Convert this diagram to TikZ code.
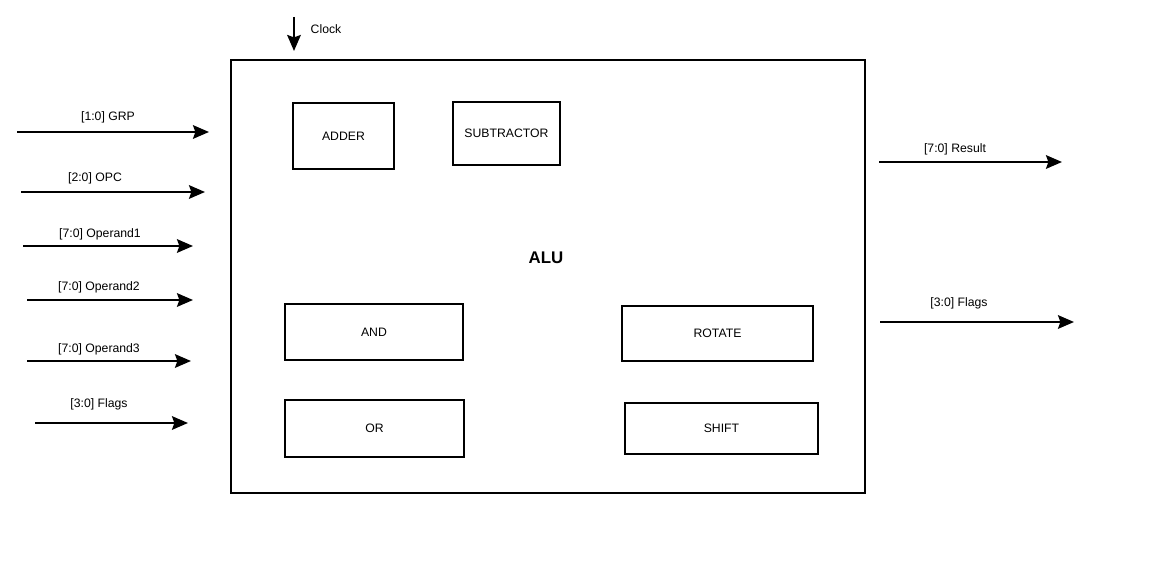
\documentclass[tikz,border=0pt]{standalone}
\usepackage{fontspec}
\setmainfont{Liberation Sans}
\usetikzlibrary{positioning, arrows.meta}

\begin{document}
\begin{tikzpicture}[
  x=0.025cm, y=-0.025cm,
  font=\fontsize{8.7}{10}\selectfont,
  unitbox/.style={draw, line width=1pt, inner sep=0pt, align=center},
  sigarrow/.style={-{Stealth[length=4mm, width=3.4mm, inset=0.6mm]}, line width=1.5pt},
  siglabel/.style={inner sep=1pt},
]
\useasboundingbox (0,0) rectangle (1160,571);

% ALU block and its units
\node[unitbox, minimum width=15.85cm, minimum height=10.825cm] (alu) at (548,276.5) {};
\node[font=\fontsize{12}{14}\selectfont\bfseries] (alulabel) at (546,258) {ALU};
\node[unitbox, minimum width=2.525cm, minimum height=1.65cm] (adder) at (343.5,136) {ADDER};
\node[unitbox, minimum width=2.675cm, minimum height=1.575cm] (sub) at (506.5,133.5) {SUBTRACTOR};
\node[unitbox, minimum width=4.45cm, minimum height=1.4cm] (and) at (374,332) {AND};
\node[unitbox, minimum width=4.775cm, minimum height=1.375cm] (rotate) at (717.5,333.5) {ROTATE};
\node[unitbox, minimum width=4.475cm, minimum height=1.425cm] (or) at (374.5,428.5) {OR};
\node[unitbox, minimum width=4.825cm, minimum height=1.275cm] (shift) at (721.5,428.5) {SHIFT};

% clock
\coordinate (clkin) at (294,17);
\coordinate (clkout) at (294,51);
\draw[sigarrow] (clkin) -- (clkout);
\node[siglabel] (clklabel) at (326,29) {Clock};

% inputs
\coordinate (grpa) at (17,132);   \coordinate (grpb) at (209,132);
\coordinate (opca) at (21,192);   \coordinate (opcb) at (205,192);
\coordinate (op1a) at (23,246);   \coordinate (op1b) at (193,246);
\coordinate (op2a) at (27,300);   \coordinate (op2b) at (193,300);
\coordinate (op3a) at (27,361);   \coordinate (op3b) at (191,361);
\coordinate (flia) at (35,423);   \coordinate (flib) at (188,423);
\draw[sigarrow] (grpa) -- (grpb);
\draw[sigarrow] (opca) -- (opcb);
\draw[sigarrow] (op1a) -- (op1b);
\draw[sigarrow] (op2a) -- (op2b);
\draw[sigarrow] (op3a) -- (op3b);
\draw[sigarrow] (flia) -- (flib);
\node[siglabel] (grplabel) at (108,117) {[1:0] GRP};
\node[siglabel] (opclabel) at (95,178) {[2:0] OPC};
\node[siglabel] (op1label) at (100,234) {[7:0] Operand1};
\node[siglabel] (op2label) at (99,287) {[7:0] Operand2};
\node[siglabel] (op3label) at (99,349) {[7:0] Operand3};
\node[siglabel] (flilabel) at (99,404) {[3:0] Flags};

% outputs
\coordinate (resa) at (879,162);  \coordinate (resb) at (1062,162);
\coordinate (floa) at (880,322);  \coordinate (flob) at (1074,322);
\draw[sigarrow] (resa) -- (resb);
\draw[sigarrow] (floa) -- (flob);
\node[siglabel] (reslabel) at (955,149) {[7:0] Result};
\node[siglabel] (flolabel) at (959,303) {[3:0] Flags};
\end{tikzpicture}
\end{document}
